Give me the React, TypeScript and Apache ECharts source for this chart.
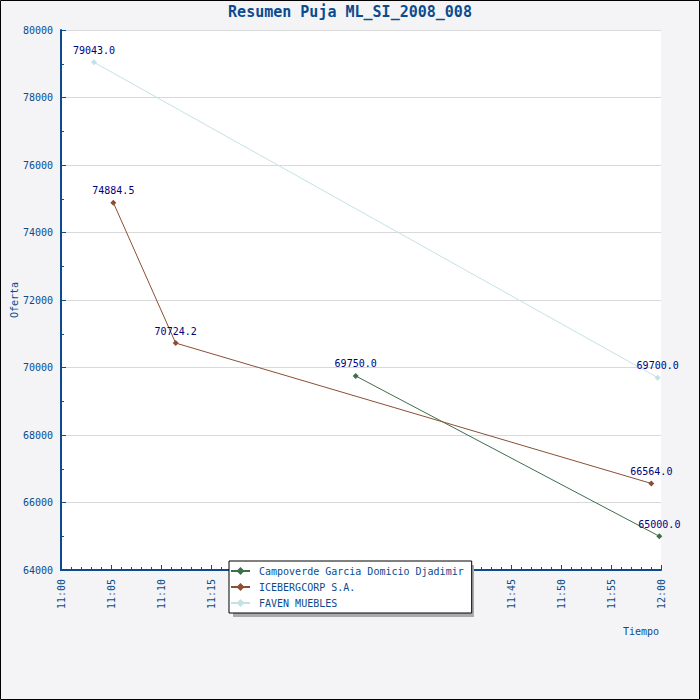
import React, { useEffect, useRef } from "react";
import * as echarts from "echarts";

const seriesNames = [
  "Campoverde Garcia Domicio Djadimir",
  "ICEBERGCORP S.A.",
  "FAVEN MUEBLES",
];
const campoverdeTimes = ["11:29:28", "11:59:50"];
const campoverdeValues = [69750.0, 65000.0];
const icebergTimes = ["11:05:14", "11:11:28", "11:59:02"];
const icebergValues = [74884.5, 70724.2, 66564.0];
const favenTimes = ["11:03:18", "11:59:40"];
const favenValues = [79043.0, 69700.0];
const seriesColors = ["#3f6e4a", "#8b4f35", "#c4e2e6"];

const toMinutes = (t: string) => {
  const [h, m, s] = t.split(":").map(Number);
  return h * 60 + m + s / 60;
};
const pair = (times: string[], values: number[]) =>
  times.map((t, i) => [toMinutes(t), values[i]]);

const BLUE = "#0a4c8f";
const MONO = "DejaVu Sans Mono";

export default function App() {
  const ref = useRef<HTMLDivElement>(null);
  useEffect(() => {
    if (!ref.current) return;
    const chart = echarts.init(ref.current, undefined, { renderer: "svg" });
    const datasets = [
      pair(campoverdeTimes, campoverdeValues),
      pair(icebergTimes, icebergValues),
      pair(favenTimes, favenValues),
    ];
    chart.setOption({
      animation: false,
      backgroundColor: "#f4f4f6",
      title: {
        text: "Resumen Puja ML_SI_2008_008",
        left: "center",
        top: 4,
        padding: 0,
        textStyle: { color: BLUE, fontFamily: MONO, fontWeight: "bold", fontSize: 15 },
      },
      grid: {
        left: 61,
        top: 30,
        right: 39,
        bottom: 130,
        containLabel: false,
        outerBoundsMode: "none",
        show: true,
        backgroundColor: "#ffffff",
        borderWidth: 0,
      },
      xAxis: {
        type: "value",
        min: 660,
        max: 720,
        interval: 5,
        axisLine: { show: true, onZero: false, lineStyle: { color: BLUE, width: 2 } },
        axisTick: { show: true, inside: true, length: 5, lineStyle: { color: BLUE } },
        minorTick: { show: true, splitNumber: 5, length: 3, lineStyle: { color: BLUE } },
        splitLine: { show: false },
        axisLabel: {
          rotate: 90,
          margin: 9,
          color: BLUE,
          fontFamily: MONO,
          fontSize: 10,
          formatter: (v: number) => {
            const h = Math.floor(v / 60);
            const m = Math.round(v - h * 60);
            return `${h}:${String(m).padStart(2, "0")}`;
          },
        },
      },
      yAxis: {
        type: "value",
        min: 64000,
        max: 80000,
        interval: 2000,
        axisLine: { show: true, lineStyle: { color: BLUE, width: 2 } },
        axisTick: { show: true, inside: true, length: 5, lineStyle: { color: BLUE } },
        minorTick: { show: true, splitNumber: 2, length: 3, lineStyle: { color: BLUE } },
        splitLine: { show: true, lineStyle: { color: "#d9d9d9", width: 1 } },
        axisLabel: {
          margin: 8,
          color: BLUE,
          fontFamily: MONO,
          fontSize: 10,
          formatter: (v: number) => String(v),
        },
      },
      legend: {
        orient: "vertical",
        left: 229,
        top: 561,
        padding: [4, 8, 4, 1],
        itemWidth: 19,
        itemHeight: 10,
        itemGap: 4,
        backgroundColor: "#ffffff",
        borderColor: "#000000",
        borderWidth: 1,
        borderRadius: 0,
        z: 10,
        textStyle: {
          color: BLUE,
          fontFamily: MONO,
          fontSize: 10,
          lineHeight: 12,
          padding: [0, 0, 0, 4],
        },
        data: seriesNames,
      },
      graphic: [
        {
          type: "rect",
          z: 1,
          shape: { x: 233, y: 565, width: 241, height: 52 },
          style: { fill: "#aaaaaa" },
        },
        {
          type: "text",
          x: 623,
          y: 631,
          style: {
            text: "Tiempo",
            fill: BLUE,
            font: `10px '${MONO}'`,
            textVerticalAlign: "middle",
          },
        },
        {
          type: "text",
          x: 14,
          y: 300,
          rotation: Math.PI / 2,
          style: {
            text: "Oferta",
            fill: BLUE,
            font: `10px '${MONO}'`,
            textAlign: "center",
            textVerticalAlign: "middle",
          },
        },
        {
          type: "rect",
          z: 100,
          silent: true,
          shape: { x: 0.5, y: 0.5, width: 699, height: 699 },
          style: { fill: "none", stroke: "#000000", lineWidth: 1 },
        },
      ],
      series: datasets.map((d, i) => ({
        name: seriesNames[i],
        type: "line",
        data: d,
        symbol: "diamond",
        symbolSize: 6,
        color: seriesColors[i],
        lineStyle: { color: seriesColors[i], width: 1 },
        itemStyle: { color: seriesColors[i] },
        label: {
          show: true,
          position: "top",
          distance: 4,
          color: "#000080",
          fontFamily: MONO,
          fontSize: 10,
          formatter: (p: any) => Number(p.value[1]).toFixed(1),
        },
      })),
    });
    return () => chart.dispose();
  }, []);
  return (
    <div
      ref={ref}
      style={{ position: "absolute", left: 0, top: 0, width: 700, height: 700 }}
    />
  );
}
